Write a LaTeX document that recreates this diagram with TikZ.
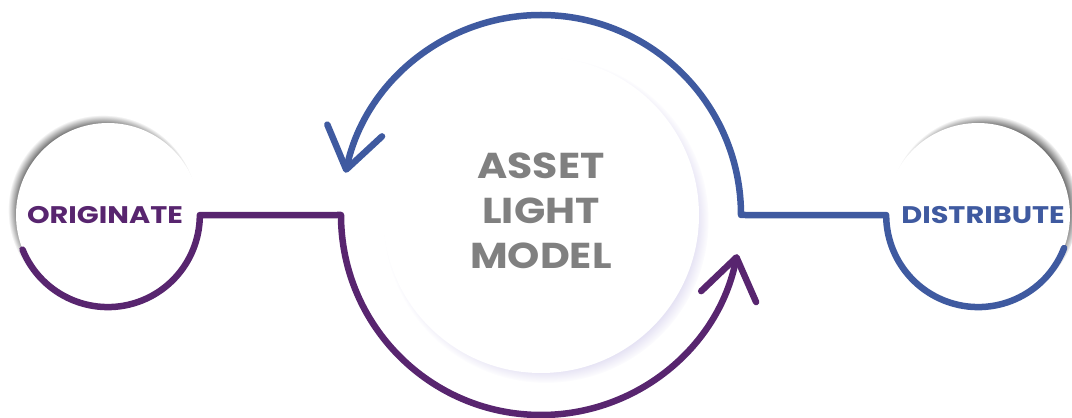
\documentclass[tikz,border=0pt]{standalone}
\usepackage{fontspec}
\setmainfont{Poppins}
\newfontfamily\widefont[FakeStretch=1.2]{Poppins}
\newfontfamily\midfont[FakeStretch=1.14]{Poppins}
\usetikzlibrary{arrows.meta,shadows}
\definecolor{purp}{HTML}{58256F}
\definecolor{blu}{HTML}{3F5AA0}
\definecolor{lav}{HTML}{B8B0E0}
\begin{document}
\begin{tikzpicture}[x=1pt,y=1pt,
  small/.style={circle,fill=white,minimum size=184pt,inner sep=0pt,font=\widefont\bfseries\fontsize{24}{24}\selectfont},
  ring/.style={line width=6.5pt,line cap=round,line join=round},
  tip/.style={-{Straight Barb[length=40pt,width=56pt,round]}}]
\useasboundingbox (0,0) rectangle (1072,418);
\node[circle,fill=white,minimum size=316pt,inner sep=0pt,
  circular drop shadow={fill=lav,shadow xshift=5pt,shadow yshift=-5pt,shadow scale=1.03,opacity=0.7},
  text=black!50,font=\midfont\bfseries\fontsize{36}{45}\selectfont] (model) at (541,203)
  {\raisebox{7pt}{\begin{tabular}{@{}c@{}}ASSET\\LIGHT\\MODEL\end{tabular}}};
\node[small,text=purp,
  circular drop shadow={fill=black,shadow xshift=-5pt,shadow yshift=5pt,shadow scale=1.03,opacity=0.8}] (orig) at (108,203) {\hspace*{-6pt}ORIGINATE};
\node[small,text=blu,
  circular drop shadow={fill=black,shadow xshift=5pt,shadow yshift=5pt,shadow scale=1.03,opacity=0.8}] (dist) at (978,203) {\hspace*{10pt}DISTRIBUTE};
\coordinate (pturn) at (341,203);
\coordinate (bturn) at (741,203);
\draw[ring,purp,tip] (orig.-158) arc[start angle=-158,end angle=0,radius=92] -- (pturn)
  arc[start angle=180,end angle=348.7,radius=200];
\draw[ring,blu,tip] (dist.-21) arc[start angle=-21,end angle=-180,radius=92] -- (bturn)
  arc[start angle=0,end angle=167.8,radius=200];
\end{tikzpicture}
\end{document}
